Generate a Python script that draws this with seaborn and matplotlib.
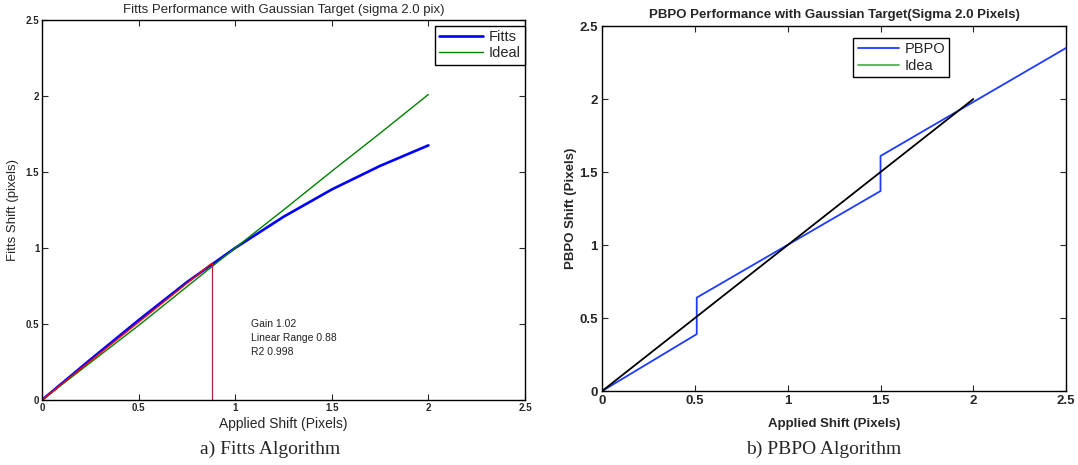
import numpy as np
import pandas as pd
import matplotlib
matplotlib.use("Agg")
import matplotlib.pyplot as plt
import seaborn as sns

# Fitts panel
fitts_x = [0.0, 0.25, 0.5, 0.75, 1.0, 1.25, 1.5, 1.75, 2.0]
fitts_y = [0.0, 0.265, 0.525, 0.775, 1.0, 1.205, 1.385, 1.54, 1.675]
ideal_y = [0.0, 0.245, 0.49, 0.745, 1.0, 1.25, 1.505, 1.755, 2.01]
fit_x = [0.0, 0.88]
fit_y = [0.0, 0.9]
range_x = [0.88, 0.88]
range_y = [0.0, 0.9]
fit_text = ["Gain 1.02", "Linear Range 0.88", "R2 0.998"]

# PBPO panel
pbpo_x = [0.0, 0.51, 0.51, 1.5, 1.5, 2.0, 2.5]
pbpo_y = [0.0, 0.39, 0.64, 1.37, 1.61, 1.98, 2.35]
idea_x = [0.0, 2.0]
idea_y = [0.0, 2.0]

ticks = [0, 0.5, 1, 1.5, 2, 2.5]
tick_labels = ["0", "0.5", "1", "1.5", "2", "2.5"]

sns.set_theme(style="ticks")
plt.rcParams["font.family"] = ["Liberation Sans", "DejaVu Sans"]
plt.rcParams["axes.edgecolor"] = "black"
plt.rcParams["axes.linewidth"] = 1.0

fig = plt.figure(figsize=(10.78, 4.65), dpi=100)
ax = fig.add_axes([0.039, 0.140, 0.448, 0.817])
ax2 = fig.add_axes([0.5585, 0.159, 0.4305, 0.785])

# ---- left: Fitts
sns.lineplot(x=fitts_x, y=fitts_y, color="#0000ff", linewidth=1.9,
             estimator=None, sort=False, ax=ax, label="Fitts")
sns.lineplot(x=fitts_x, y=ideal_y, color="#008000", linewidth=1.0,
             estimator=None, sort=False, ax=ax, label="Ideal")
sns.lineplot(x=fit_x, y=fit_y, color="red", linewidth=1.0,
             estimator=None, sort=False, ax=ax, legend=False)
sns.lineplot(x=range_x, y=range_y, color="#b0203c", linewidth=0.9,
             estimator=None, sort=False, ax=ax, legend=False)
ax.text(1.08, 0.53, "\n".join(fit_text), fontsize=7.5, va="top", ha="left",
        linespacing=1.45, color="#222222")

ax.set_xlim(0, 2.5)
ax.set_ylim(0, 2.5)
ax.set_xticks(ticks)
ax.set_xticklabels(tick_labels)
ax.set_yticks(ticks)
ax.set_yticklabels(tick_labels)
ax.tick_params(direction="in", length=4, width=0.8, top=True, right=True,
               labelsize=7, pad=2)
for lab in ax.get_xticklabels() + ax.get_yticklabels():
    lab.set_fontweight("bold")
ax.set_xlabel("Applied Shift (Pixels)", fontsize=10, labelpad=3)
ax.set_ylabel("Fitts Shift (pixels)", fontsize=9.5, labelpad=5)
ax.set_title("Fitts Performance with Gaussian Target (sigma 2.0 pix)",
             fontsize=9.5, pad=5)
leg = ax.legend(loc="upper right", bbox_to_anchor=(1.0, 0.985), fontsize=10.5,
                fancybox=False, edgecolor="black", framealpha=1,
                handlelength=3.0, borderpad=0.3, labelspacing=0.15,
                handletextpad=0.4, borderaxespad=0)
leg.get_frame().set_linewidth(1.0)

# ---- right: PBPO
sns.lineplot(x=pbpo_x, y=pbpo_y, color="#1e3cff", linewidth=1.3,
             estimator=None, sort=False, ax=ax2, label="PBPO")
sns.lineplot(x=idea_x, y=idea_y, color="black", linewidth=1.3,
             estimator=None, sort=False, ax=ax2, legend=False)
ax2.plot([], [], color="#55b055", linewidth=1.3, label="Idea")

ax2.set_xlim(0, 2.5)
ax2.set_ylim(0, 2.5)
ax2.set_xticks(ticks)
ax2.set_xticklabels(tick_labels)
ax2.set_yticks(ticks)
ax2.set_yticklabels(tick_labels)
ax2.tick_params(direction="in", length=4, width=0.8, top=True, right=True,
                labelsize=9.5, pad=3)
for lab in ax2.get_xticklabels() + ax2.get_yticklabels():
    lab.set_fontweight("bold")
ax2.set_xlabel("Applied Shift (Pixels)", fontsize=9.5, fontweight="bold",
               labelpad=8)
ax2.set_ylabel("PBPO Shift (Pixels)", fontsize=9.5, fontweight="bold",
               labelpad=1.5)
ax2.set_title("PBPO Performance with Gaussian Target(Sigma 2.0 Pixels)",
              fontsize=9.5, fontweight="bold", pad=6)
leg2 = ax2.legend(loc="upper center", bbox_to_anchor=(0.645, 0.967),
                  fontsize=10.5, fancybox=False, edgecolor="black",
                  framealpha=1, handlelength=2.8, borderpad=0.3,
                  labelspacing=0.15, handletextpad=0.4, borderaxespad=0)
leg2.get_frame().set_linewidth(1.0)

# captions under each panel
fig.text(0.251, 0.033, "a) Fitts Algorithm", fontsize=14, ha="center",
         va="center", family=["Liberation Serif", "DejaVu Serif"])
fig.text(0.764, 0.033, "b) PBPO Algorithm", fontsize=14, ha="center",
         va="center", family=["Liberation Serif", "DejaVu Serif"])

fig.savefig("out.png", dpi=100, facecolor="white")
